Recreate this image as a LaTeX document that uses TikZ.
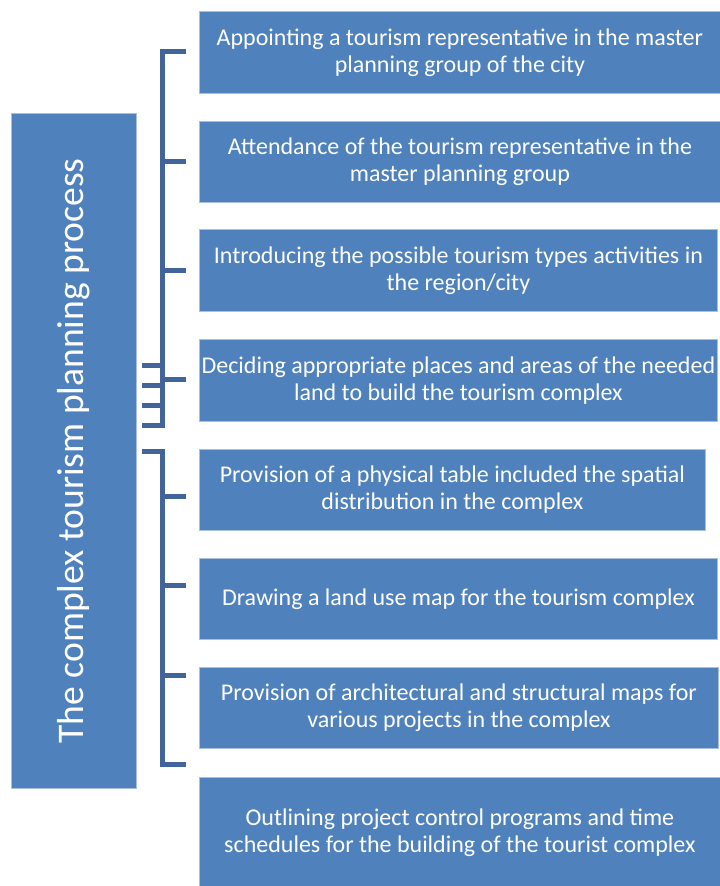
\documentclass[tikz,border=0pt]{standalone}
\usepackage{fontspec}
\setmainfont{Carlito}
\definecolor{boxblue}{HTML}{4F81BD}
\definecolor{boxedge}{HTML}{A9C0DC}
\definecolor{brk}{HTML}{41649A}
\begin{document}
\begin{tikzpicture}[x=1pt,y=-1pt,
  item/.style={fill=boxblue,draw=boxedge,line width=0.8pt,anchor=north west,inner sep=0pt,
    text=white,font=\fontsize{24}{27}\selectfont,align=center},
  brace/.style={draw=brk,line width=5pt}]
\useasboundingbox (0,0) rectangle (720,886);
\node[fill=boxblue,draw=boxedge,line width=0.8pt,anchor=north west,minimum width=125pt,minimum height=675pt,inner sep=0pt] (main) at (11,113) {};
\node[text=white,rotate=90,font=\fontsize{37.6}{42}\selectfont] (mainlabel) at (main.center) {The complex tourism planning process};
\node[item,minimum width=521pt,minimum height=82pt] (b1) at (199,11) {Appointing a tourism representative in the master\\planning group of the city};
\node[item,minimum width=521pt,minimum height=81pt] (b2) at (199,121) {Attendance of the tourism representative in the\\master planning group};
\node[item,minimum width=518pt,minimum height=82pt] (b3) at (199,229) {Introducing the possible tourism types activities in\\the region/city};
\node[item,minimum width=518pt,minimum height=82pt] (b4) at (199,339) {Deciding appropriate places and areas of the needed\\land to build the tourism complex};
\node[item,minimum width=506pt,minimum height=81pt] (b5) at (199,449) {Provision of a physical table included the spatial\\distribution in the complex};
\node[item,minimum width=518pt,minimum height=81pt] (b6) at (199,558) {Drawing a land use map for the tourism complex};
\node[item,minimum width=519pt,minimum height=81pt] (b7) at (199,667) {Provision of architectural and structural maps for\\various projects in the complex};
\node[item,minimum width=521pt,minimum height=110pt] (b8) at (199,777) {Outlining project control programs and time\\schedules for the building of the tourist complex};
% bracket 1
\coordinate (t1) at (186,51);
\coordinate (s1) at (162.5,51);
\coordinate (e1) at (162.5,425);
\coordinate (l4) at (142,425);
\draw[brace] (t1) -- (s1) -- (e1) -- (l4);
\foreach \yy in {161,270,379} \draw[brace] (162.5,\yy) -- (186,\yy);
\foreach \yy in {365,385,405} \draw[brace] (142,\yy) -- (165,\yy);
% bracket 2
\coordinate (t2) at (142,451);
\coordinate (s2) at (162.5,451);
\coordinate (e2) at (162.5,764);
\coordinate (r4) at (186,764);
\draw[brace] (t2) -- (s2) -- (e2) -- (r4);
\foreach \yy in {496,585,675} \draw[brace] (162.5,\yy) -- (186,\yy);
\end{tikzpicture}
\end{document}
